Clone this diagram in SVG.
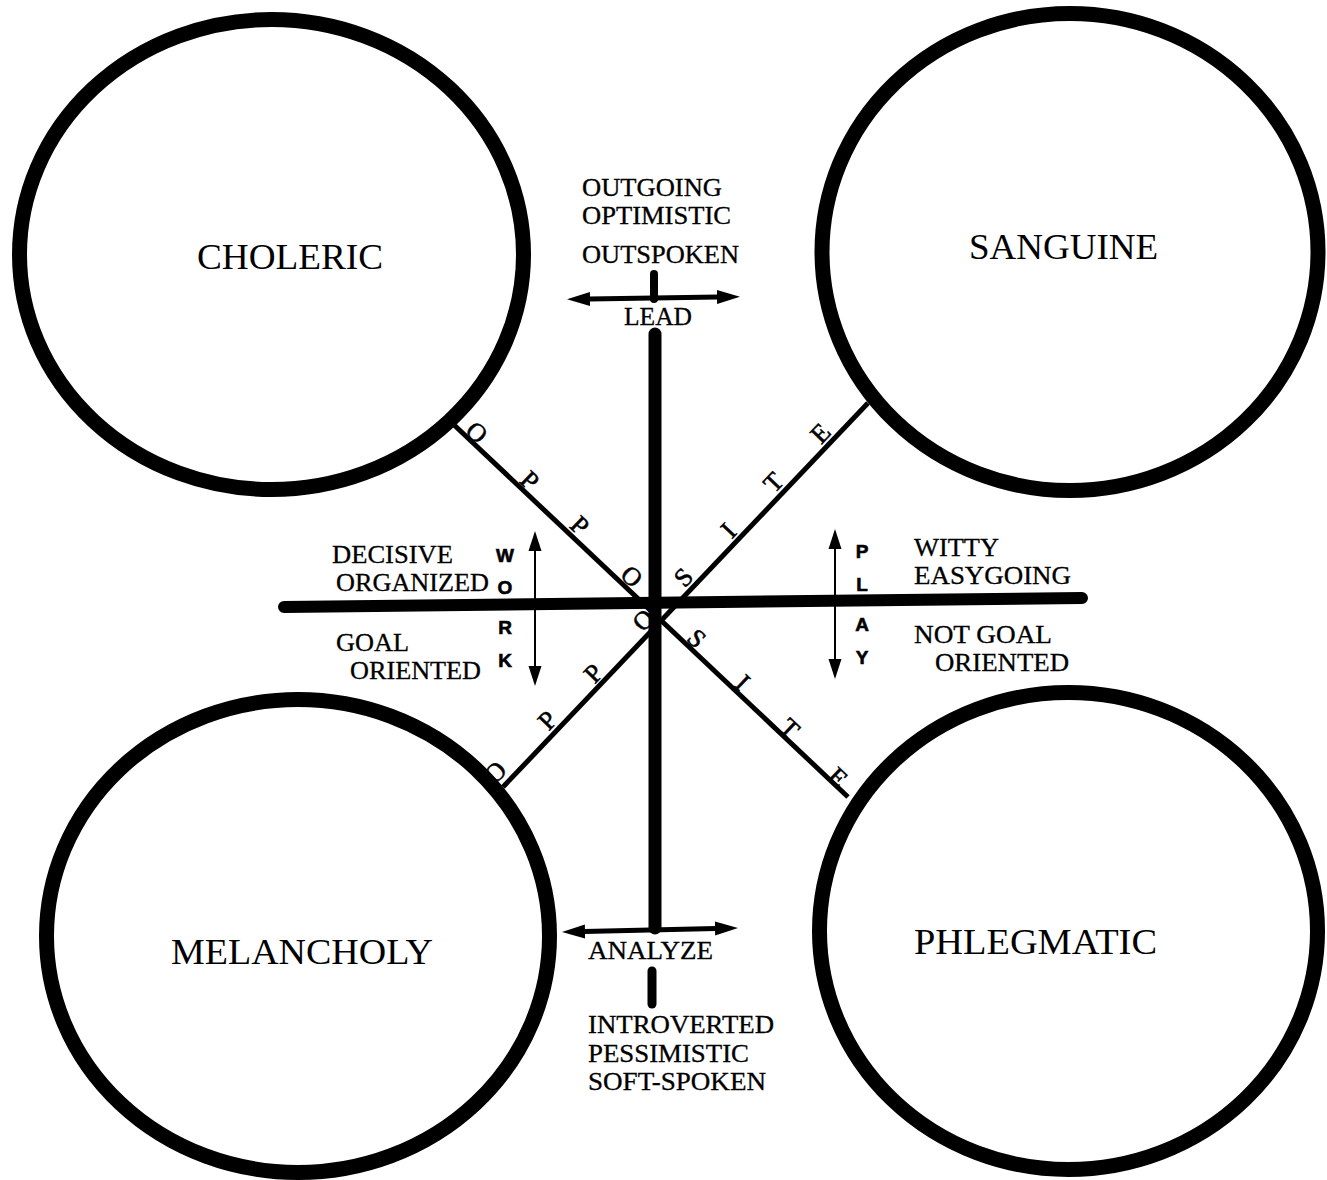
<svg xmlns="http://www.w3.org/2000/svg" width="1327" height="1180" viewBox="0 0 1327 1180">
<style>
.ring{fill:none;stroke:#000;stroke-width:15}
.big{font-family:"Liberation Serif","Times New Roman",serif;font-size:36px;fill:#000}
.lbl{font-family:"Liberation Serif","Times New Roman",serif;font-size:25px;fill:#000;stroke:#000;stroke-width:0.3}
.opp{font-family:"Liberation Serif","Times New Roman",serif;font-size:26px;fill:#000;stroke:#000;stroke-width:0.6;text-anchor:middle}
.vert{font-family:"Liberation Sans",Arial,sans-serif;font-weight:bold;font-size:19px;fill:#000;stroke:#000;stroke-width:0.6;text-anchor:middle}
.thick{stroke:#000;stroke-linecap:round;fill:none}
.diag{stroke:#000;stroke-width:5;fill:none}
.arr{stroke:#000;stroke-width:5;fill:none;marker-start:url(#ah);marker-end:url(#ah)}
.varr{stroke:#000;stroke-width:2;fill:none;marker-start:url(#ahs);marker-end:url(#ahs)}
</style>
<defs>
<marker id="ah" markerUnits="userSpaceOnUse" markerWidth="26" markerHeight="18" refX="1" refY="9" orient="auto-start-reverse"><path d="M0,2 L23,9 L0,16 z" fill="#000"/></marker>
<marker id="ahs" markerUnits="userSpaceOnUse" markerWidth="22" markerHeight="16" refX="1" refY="8" orient="auto-start-reverse"><path d="M0,1.5 L20,8 L0,14.5 z" fill="#000"/></marker>
</defs>
<rect width="1327" height="1180" fill="#fff"/>

<g id="choleric">
<ellipse class="ring" cx="271.5" cy="254.5" rx="252" ry="235"/>
<text class="big" x="197" y="269" textLength="186" lengthAdjust="spacingAndGlyphs">CHOLERIC</text>
</g>
<g id="sanguine">
<ellipse class="ring" cx="1070" cy="252" rx="248" ry="238.5"/>
<text class="big" x="969" y="259" textLength="189" lengthAdjust="spacingAndGlyphs">SANGUINE</text>
</g>
<g id="melancholy">
<ellipse class="ring" cx="298" cy="936" rx="251.5" ry="236.5"/>
<text class="big" x="171" y="964" textLength="262" lengthAdjust="spacingAndGlyphs">MELANCHOLY</text>
</g>
<g id="phlegmatic">
<ellipse class="ring" cx="1068.5" cy="931" rx="249" ry="238.5"/>
<text class="big" x="914" y="954" textLength="243" lengthAdjust="spacingAndGlyphs">PHLEGMATIC</text>
</g>

<g id="connectors">
<line class="thick" x1="655" y1="334" x2="655" y2="928" stroke-width="13"/>
<line class="thick" x1="284" y1="607" x2="1082" y2="598" stroke-width="12"/>
<line class="thick" x1="654" y1="274" x2="654" y2="299" stroke-width="8"/>
<line class="thick" x1="652" y1="971" x2="652" y2="1004" stroke-width="9"/>
<line class="diag" x1="452" y1="423" x2="848" y2="797"/>
<line class="diag" x1="503" y1="787" x2="868" y2="403"/>
<line class="arr" x1="589" y1="299" x2="718" y2="297"/>
<line class="arr" x1="584" y1="931.5" x2="716" y2="928.5"/>
<line class="varr" x1="535" y1="550" x2="535" y2="667"/>
<line class="varr" x1="835" y1="548" x2="835" y2="660"/>
</g>

<g id="opposite-1">
<text class="opp" dy="0.35em" transform="translate(477 432) rotate(43.4)">O</text>
<text class="opp" dy="0.35em" transform="translate(530 480) rotate(43.4)">P</text>
<text class="opp" dy="0.35em" transform="translate(580 525) rotate(43.4)">P</text>
<text class="opp" dy="0.35em" transform="translate(632 576) rotate(43.4)">O</text>
<text class="opp" dy="0.35em" transform="translate(697 638) rotate(43.4)">S</text>
<text class="opp" dy="0.35em" transform="translate(743 682) rotate(43.4)">I</text>
<text class="opp" dy="0.35em" transform="translate(790 728) rotate(43.4)">T</text>
<text class="opp" dy="0.35em" transform="translate(838 777) rotate(43.4)">E</text>
</g>
<g id="opposite-2">
<text class="opp" dy="0.35em" transform="translate(495 772) rotate(-46.5)">O</text>
<text class="opp" dy="0.35em" transform="translate(547 720) rotate(-46.5)">P</text>
<text class="opp" dy="0.35em" transform="translate(593 673) rotate(-46.5)">P</text>
<text class="opp" dy="0.35em" transform="translate(643 620) rotate(-46.5)">O</text>
<text class="opp" dy="0.35em" transform="translate(683 577) rotate(-46.5)">S</text>
<text class="opp" dy="0.35em" transform="translate(728 530) rotate(-46.5)">I</text>
<text class="opp" dy="0.35em" transform="translate(773 482) rotate(-46.5)">T</text>
<text class="opp" dy="0.35em" transform="translate(820 433) rotate(-46.5)">E</text>
</g>

<g id="work">
<text class="vert" x="505" y="562">W</text>
<text class="vert" x="505" y="594">O</text>
<text class="vert" x="505" y="634">R</text>
<text class="vert" x="505" y="667">K</text>
</g>
<g id="play">
<text class="vert" x="862" y="558">P</text>
<text class="vert" x="862" y="591">L</text>
<text class="vert" x="862" y="631">A</text>
<text class="vert" x="862" y="664">Y</text>
</g>

<g id="lead-labels">
<text class="lbl" x="582" y="196" textLength="140" lengthAdjust="spacingAndGlyphs">OUTGOING</text>
<text class="lbl" x="582" y="224" textLength="149" lengthAdjust="spacingAndGlyphs">OPTIMISTIC</text>
<text class="lbl" x="582" y="263" textLength="157" lengthAdjust="spacingAndGlyphs">OUTSPOKEN</text>
<text class="lbl" x="624" y="325" textLength="68" lengthAdjust="spacingAndGlyphs">LEAD</text>
</g>
<g id="work-labels">
<text class="lbl" x="332" y="563" textLength="121" lengthAdjust="spacingAndGlyphs">DECISIVE</text>
<text class="lbl" x="336" y="591" textLength="153" lengthAdjust="spacingAndGlyphs">ORGANIZED</text>
<text class="lbl" x="336" y="651" textLength="73" lengthAdjust="spacingAndGlyphs">GOAL</text>
<text class="lbl" x="350" y="679" textLength="131" lengthAdjust="spacingAndGlyphs">ORIENTED</text>
</g>
<g id="play-labels">
<text class="lbl" x="914" y="556" textLength="85" lengthAdjust="spacingAndGlyphs">WITTY</text>
<text class="lbl" x="914" y="584" textLength="157" lengthAdjust="spacingAndGlyphs">EASYGOING</text>
<text class="lbl" x="914" y="643" textLength="138" lengthAdjust="spacingAndGlyphs">NOT GOAL</text>
<text class="lbl" x="935" y="671" textLength="134" lengthAdjust="spacingAndGlyphs">ORIENTED</text>
</g>
<g id="analyze-labels">
<text class="lbl" x="588" y="959" textLength="125" lengthAdjust="spacingAndGlyphs">ANALYZE</text>
<text class="lbl" x="588" y="1033" textLength="186" lengthAdjust="spacingAndGlyphs">INTROVERTED</text>
<text class="lbl" x="588" y="1062" textLength="161" lengthAdjust="spacingAndGlyphs">PESSIMISTIC</text>
<text class="lbl" x="588" y="1090" textLength="178" lengthAdjust="spacingAndGlyphs">SOFT-SPOKEN</text>
</g>
</svg>
